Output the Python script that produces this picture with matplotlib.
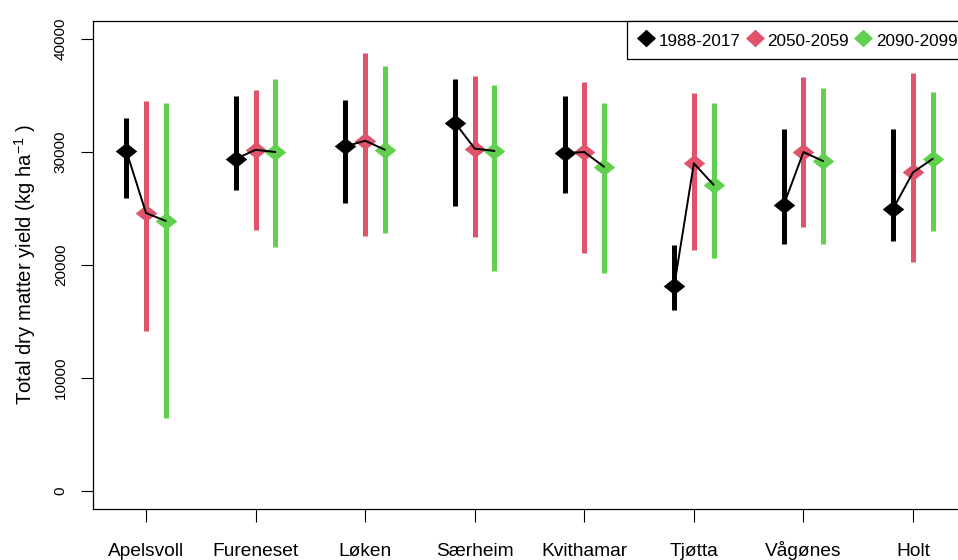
import numpy as np
import matplotlib
matplotlib.use("Agg")
import matplotlib.pyplot as plt
from matplotlib.lines import Line2D

plt.rcParams['font.family'] = ['Liberation Sans', 'DejaVu Sans']
plt.rcParams['mathtext.default'] = 'regular'

# ---- data ----
sites = ['Apelsvoll', 'Fureneset', 'Løken', 'Særheim', 'Kvithamar', 'Tjøtta', 'Vågønes', 'Holt']
periods = ['1988-2017', '2050-2059', '2090-2099']

mean_hist = [30100, 29400, 30500, 32600, 29900, 18100, 25300, 25000]
lo_hist = [25900, 26600, 25500, 25200, 26400, 16000, 21900, 22100]
hi_hist = [33000, 35000, 34600, 36500, 35000, 21800, 32000, 32000]

mean_2050 = [24600, 30200, 31000, 30300, 30000, 29000, 30000, 28200]
lo_2050 = [14200, 23100, 22600, 22500, 21100, 21300, 23400, 20300]
hi_2050 = [34500, 35500, 38800, 36700, 36200, 35200, 36600, 37000]

mean_2090 = [23900, 30000, 30200, 30100, 28700, 27100, 29200, 29400]
lo_2090 = [6500, 21600, 22800, 19500, 19300, 20600, 21900, 23000]
hi_2090 = [34300, 36500, 37600, 35900, 34300, 34300, 35700, 35300]

colors = ['#000000', '#DF536B', '#61D04F']
offsets = [-0.18, 0.0, 0.18]

means = [mean_hist, mean_2050, mean_2090]
los = [lo_hist, lo_2050, lo_2090]
his = [hi_hist, hi_2050, hi_2090]

# ---- figure ----
W, H = 958, 560
fig = plt.figure(figsize=(W / 100, H / 100), dpi=100)
ax = fig.add_axes([93 / W, 51 / H, (966 - 93) / W, (509 - 21) / H])

x = np.arange(1, len(sites) + 1)
diamond = [(-1, 0), (0, 0.8), (1, 0), (0, -0.8), (-1, 0)]

for k in range(3):
    xs = x + offsets[k]
    ax.vlines(xs, los[k], his[k], colors=colors[k], linewidth=3.6, zorder=2)
    ax.plot(xs, means[k], linestyle='none', marker=diamond, markersize=15.5,
            markeredgewidth=0, color=colors[k], zorder=3)

for i in range(len(sites)):
    ax.plot([x[i] + o for o in offsets], [means[k][i] for k in range(3)],
            color='black', linewidth=1.4, zorder=4, solid_capstyle='round')

ax.set_xlim(0.516, 8.484)
ax.set_ylim(-1600, 41600)
ax.set_xticks(x)
ax.set_xticklabels(sites, fontsize=13.8)
ax.set_yticks([0, 10000, 20000, 30000, 40000])
ax.set_yticklabels(['0', '10000', '20000', '30000', '40000'], fontsize=11)
ax.tick_params(axis='y', labelrotation=90, length=8.6, width=0.8, pad=9.5)
ax.tick_params(axis='x', length=9.4, width=0.8, pad=24.5)
for lab in ax.get_yticklabels():
    lab.set_verticalalignment('center')
for lab in ax.get_xticklabels():
    lab.set_verticalalignment('baseline')

for s in ax.spines.values():
    s.set_linewidth(0.9)
    s.set_color('black')

ax.set_ylabel('Total dry matter yield (kg ha$^{-1}$ )', fontsize=14.6)
ax.yaxis.set_label_coords(-0.0625, 0.5)

leg_diamond = [(-1, 0), (0, 0.93), (1, 0), (0, -0.93), (-1, 0)]
handles = [Line2D([], [], linestyle='none', marker=leg_diamond, markersize=13.7,
                  markeredgewidth=0, color=c) for c in colors]
leg = ax.legend(handles, periods, loc='upper right', ncol=3, fontsize=12.3,
                frameon=True, fancybox=False, borderaxespad=0, borderpad=0.5,
                handleheight=1.5, handlelength=1.2, handletextpad=0.15,
                columnspacing=0.22)
leg.get_frame().set_edgecolor('black')
leg.get_frame().set_linewidth(0.9)
leg.get_frame().set_alpha(1)

fig.savefig('out.png', dpi=100)
